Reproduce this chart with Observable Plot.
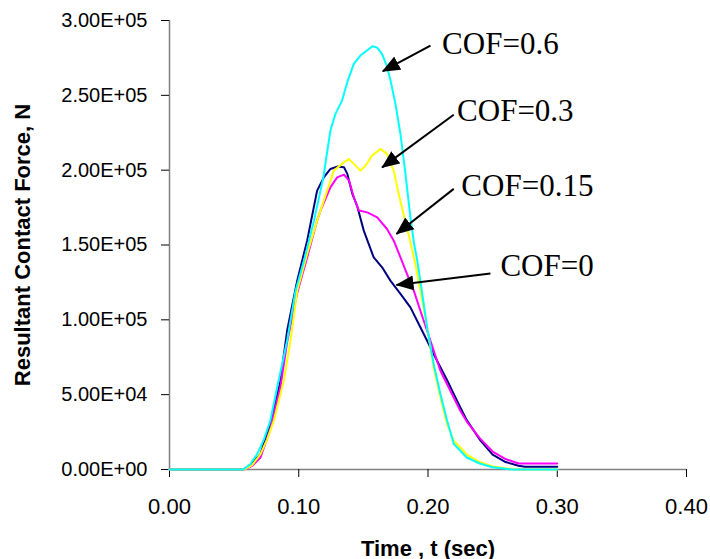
<!DOCTYPE html>
<html><head><meta charset="utf-8">
<script src="https://cdn.jsdelivr.net/npm/d3@7"></script>
<script src="https://cdn.jsdelivr.net/npm/@observablehq/plot@0.6"></script>
<style>
html,body{margin:0;padding:0;background:#fff;}
#chart svg{display:block;}
</style></head><body><div id="chart"></div>
<script>
// ---- data (time in s, resultant contact force in N) ----
const seriesNames = ["COF=0", "COF=0.15", "COF=0.3", "COF=0.6"];
const seriesColors = ["#000080", "#FF00FF", "#FFFF00", "#00FFFF"];

const timeCof0 = [0, 0.057, 0.0625, 0.0704, 0.078, 0.0858, 0.091, 0.0988, 0.1065, 0.1142, 0.1194, 0.1245, 0.1297, 0.135, 0.1376, 0.1415, 0.1452, 0.1503, 0.158, 0.1645, 0.1709, 0.1787, 0.1864, 0.1941, 0.1993, 0.207, 0.215, 0.22, 0.225, 0.23, 0.24, 0.25, 0.26, 0.27, 0.275, 0.30];
const forceCof0 = [0, 0, 3000, 10300, 30300, 59300, 92700, 126200, 152900, 186300, 195200, 200800, 202400, 201900, 197500, 184100, 176000, 159600, 141700, 135100, 126200, 117300, 108300, 95000, 86000, 72700, 59300, 50400, 41500, 33000, 20000, 10000, 5000, 2500, 1800, 1800];

const timeCof015 = [0, 0.058, 0.064, 0.0704, 0.078, 0.0858, 0.091, 0.0988, 0.1065, 0.1142, 0.1168, 0.1245, 0.1297, 0.135, 0.1389, 0.1426, 0.1465, 0.153, 0.1607, 0.1683, 0.1735, 0.1787, 0.1838, 0.189, 0.1941, 0.1993, 0.2044, 0.2096, 0.2173, 0.225, 0.23, 0.24, 0.25, 0.26, 0.27, 0.30];
const forceCof015 = [0, 0, 2500, 8000, 27000, 55000, 85000, 118000, 141700, 166300, 173000, 188500, 195200, 197000, 193000, 181900, 173000, 171800, 168500, 160700, 152900, 141700, 130600, 119500, 106100, 92700, 79400, 66000, 52600, 39200, 32000, 21000, 12000, 7000, 4000, 4000];

const timeCof03 = [0, 0.058, 0.064, 0.0704, 0.0755, 0.0807, 0.0884, 0.0936, 0.0988, 0.1065, 0.1142, 0.122, 0.1271, 0.1335, 0.1387, 0.1426, 0.1477, 0.1516, 0.1567, 0.1632, 0.1683, 0.1735, 0.1774, 0.1812, 0.185, 0.1902, 0.1941, 0.1993, 0.2044, 0.2096, 0.2148, 0.22, 0.225, 0.23, 0.24, 0.25, 0.26, 0.27, 0.30];
const forceCof03 = [0, 0, 3000, 10300, 20000, 32600, 59300, 86000, 119500, 144000, 166300, 186300, 199700, 204200, 207500, 204200, 199700, 203000, 209700, 214200, 210900, 199700, 184000, 170000, 157000, 137300, 119500, 95000, 68200, 48100, 30300, 19200, 14700, 10000, 5000, 2000, 800, 0, 0];

const timeCof06 = [0, 0.057, 0.0625, 0.0678, 0.073, 0.078, 0.0833, 0.091, 0.0975, 0.104, 0.1117, 0.119, 0.1245, 0.1284, 0.1335, 0.138, 0.1426, 0.1477, 0.152, 0.157, 0.1605, 0.1644, 0.168, 0.171, 0.1748, 0.1787, 0.1825, 0.1864, 0.189, 0.1916, 0.1941, 0.1993, 0.2044, 0.2096, 0.2148, 0.22, 0.225, 0.23, 0.24, 0.25, 0.26, 0.265, 0.30];
const forceCof06 = [0, 0, 3500, 10300, 20000, 32600, 54800, 86000, 119500, 139500, 166000, 195000, 226500, 237600, 246500, 260000, 271000, 276600, 279500, 282800, 282000, 277700, 270000, 260000, 244300, 224000, 198000, 168500, 152000, 140000, 126000, 95000, 70500, 50400, 32600, 17000, 12500, 8000, 4000, 1500, 500, 0, 0];

// axis ticks
const xTicks = [0, 0.1, 0.2, 0.3, 0.4];
const yTicks = [0, 50000, 100000, 150000, 200000, 250000, 300000];
const xTitle = "Time , t (sec)";
const yTitle = "Resultant Contact Force, N";

// annotations (data units)
const noteText = ["COF=0.6", "COF=0.3", "COF=0.15", "COF=0"];
const noteT = [0.2109, 0.2225, 0.2258, 0.256];
const noteF = [277700, 233100, 183000, 129500];
const arrowFromT = [0.2019, 0.2199, 0.2199, 0.2483];
const arrowFromF = [283200, 237000, 187500, 131000];
const arrowToT = [0.165, 0.1645, 0.1756, 0.1756];
const arrowToF = [266100, 201900, 157400, 123300];

// ---- build tables ----
const times = [timeCof0, timeCof015, timeCof03, timeCof06];
const forces = [forceCof0, forceCof015, forceCof03, forceCof06];
const rows = seriesNames.flatMap((name, i) => times[i].map((t, j) => ({series: name, t, f: forces[i][j]})));
const notes = noteText.map((text, i) => ({text, t: noteT[i], f: noteF[i]}));
const arrows = noteText.map((text, i) => ({x1: arrowFromT[i], y1: arrowFromF[i], x2: arrowToT[i], y2: arrowToF[i]}));

function sci(d) {
  if (d === 0) return "0.00E+00";
  const e = Math.floor(Math.log10(d));
  const m = d / Math.pow(10, e);
  return m.toFixed(2) + "E+" + String(e).padStart(2, "0");
}

const sans = "'Liberation Sans', Arial, sans-serif";
const chart = Plot.plot({
  width: 710,
  height: 559,
  marginLeft: 169,
  marginRight: 24,
  marginTop: 20,
  marginBottom: 90,
  style: {fontFamily: sans, fontSize: "20px", color: "black", background: "white"},
  x: {domain: [0, 0.4]},
  y: {domain: [0, 300000]},
  color: {domain: seriesNames, range: seriesColors},
  marks: [
    Plot.ruleX([0], {stroke: "#808080", strokeWidth: 1.5}),
    Plot.ruleY([0], {stroke: "#808080", strokeWidth: 1.5}),
    Plot.axisY({ticks: yTicks, tickFormat: sci, tickSize: 8, tickPadding: 14, fontSize: 20, label: null, stroke: "black"}),
    Plot.axisX({ticks: xTicks, tickFormat: d3.format(".2f"), tickSize: 8, tickPadding: 21, fontSize: 22, label: null, stroke: "black"}),
    ...seriesNames.map((name) => Plot.line(rows.filter(r => r.series === name), {x: "t", y: "f", stroke: "series", strokeWidth: 2})),
    Plot.link(arrows, {x1: "x1", y1: "y1", x2: "x2", y2: "y2", stroke: "black", strokeWidth: 2}),
    Plot.text(notes, {x: "t", y: "f", text: "text", textAnchor: "start", lineAnchor: "bottom", fontFamily: "'Liberation Serif', 'Times New Roman', serif", fontSize: 31, fill: "black"}),
    Plot.text([xTitle], {frameAnchor: "bottom", dy: 86, textAnchor: "middle", lineAnchor: "bottom", fontWeight: "bold", fontSize: 22, fill: "black"}),
    Plot.text([yTitle], {frameAnchor: "left", dx: -146.5, rotate: -90, textAnchor: "middle", lineAnchor: "middle", fontWeight: "bold", fontSize: 22, fill: "black"})
  ]
});
document.getElementById("chart").append(chart);

// filled triangular arrowheads
const svg = chart.tagName.toLowerCase() === "svg" ? chart : chart.querySelector("svg");
const ns = "http://www.w3.org/2000/svg";
const defs = document.createElementNS(ns, "defs");
const marker = document.createElementNS(ns, "marker");
marker.setAttribute("id", "tri-head");
marker.setAttribute("viewBox", "0 -8 18 16");
marker.setAttribute("refX", "17");
marker.setAttribute("refY", "0");
marker.setAttribute("markerWidth", "18");
marker.setAttribute("markerHeight", "16");
marker.setAttribute("markerUnits", "userSpaceOnUse");
marker.setAttribute("orient", "auto");
const head = document.createElementNS(ns, "path");
head.setAttribute("d", "M0,-7.5L18,0L0,7.5Z");
head.setAttribute("fill", "black");
marker.append(head);
defs.append(marker);
svg.prepend(defs);
svg.querySelectorAll('g[aria-label="link"] path').forEach(p => p.setAttribute("marker-end", "url(#tri-head)"));
</script></body></html>
